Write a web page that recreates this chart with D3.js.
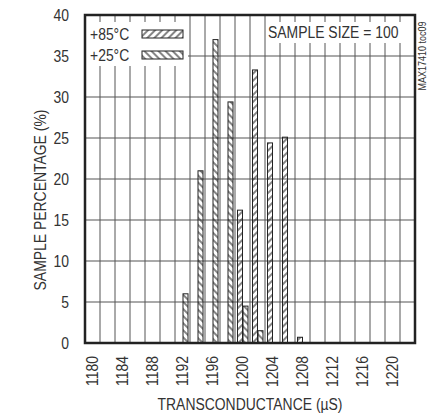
<!DOCTYPE html>
<html>
<head>
<meta charset="utf-8">
<script src="https://cdn.jsdelivr.net/npm/d3@7"></script>
<style>
body { margin: 0; background: #fff; }
text { font-family: "Liberation Sans Narrow", "Liberation Sans", Arial, sans-serif; fill: #333; }
</style>
</head>
<body>
<div id="chart"></div>
<script>
var width = 433,
    height = 415;

// histogram data, transconductance bins (uS) and sample percentage
var bins   = [1192, 1194, 1196, 1198, 1200, 1202, 1204, 1206, 1208];
var pct25  = [6, 21, 37, 29.4, 4.5, 1.5, 0, 0, 0];
var pct85  = [0, 0, 0, 0, 16.2, 33.3, 24.4, 25.1, 0.7];
var xTicks = [1180, 1184, 1188, 1192, 1196, 1200, 1204, 1208, 1212, 1216, 1220];
var yTicks = [0, 5, 10, 15, 20, 25, 30, 35, 40];
var xGrid  = d3.range(1181, 1222, 2);
var legendNames = ["+85°C", "+25°C"];

var pLeft = 85, pRight = 415, pTop = 15, pBottom = 343;
var narrow = 0.82; // squeeze text horizontally, looks like a narrow face

var x = d3.scaleLinear().domain([1179, 1223]).range([pLeft, pRight]);
var y = d3.scaleLinear().domain([0, 40]).range([pBottom, pTop]);

var barW = 5;

var svg = d3.select("#chart").append("svg")
    .attr("width", width)
    .attr("height", height);

// hatch patterns: "/" for +85C, "\" for +25C
var defs = svg.append("defs");
[["h85", 45], ["h25", -45]].forEach(function(p) {
    var pat = defs.append("pattern")
        .attr("id", p[0])
        .attr("patternUnits", "userSpaceOnUse")
        .attr("width", 5)
        .attr("height", 5)
        .attr("patternTransform", "rotate(" + p[1] + ")");
    pat.append("line")
        .attr("x1", 1).attr("x2", 1)
        .attr("y1", 0).attr("y2", 5)
        .attr("stroke", "#222")
        .attr("stroke-width", 1.1);
});

// grid
svg.append("g").selectAll("line")
    .data(xGrid)
  .enter().append("line")
    .attr("x1", function(d) { return x(d); })
    .attr("x2", function(d) { return x(d); })
    .attr("y1", pTop)
    .attr("y2", pBottom)
    .attr("stroke", "#555")
    .attr("stroke-width", 1);

svg.append("g").selectAll("line")
    .data(yTicks.slice(1, -1))
  .enter().append("line")
    .attr("x1", pLeft)
    .attr("x2", pRight)
    .attr("y1", function(d) { return y(d); })
    .attr("y2", function(d) { return y(d); })
    .attr("stroke", "#555")
    .attr("stroke-width", 1.2);

// white boxes behind legend + sample size note
svg.append("rect")
    .attr("x", pLeft + 1).attr("y", 22)
    .attr("width", 102).attr("height", 44)
    .attr("fill", "#fff");
svg.append("rect")
    .attr("x", 266).attr("y", 22)
    .attr("width", pRight - 267).attr("height", 21)
    .attr("fill", "#fff");

// bars
function drawBars(vals, pat, offset) {
    svg.append("g").selectAll("rect")
        .data(bins.map(function(b, i) { return {b: b, v: vals[i]}; }).filter(function(d) { return d.v > 0; }))
      .enter().append("rect")
        .attr("x", function(d) { return x(d.b) + offset; })
        .attr("y", function(d) { return y(d.v); })
        .attr("width", barW)
        .attr("height", function(d) { return pBottom - y(d.v); })
        .attr("fill", "url(#" + pat + ")")
        .attr("stroke", "#222")
        .attr("stroke-width", 1);
}
drawBars(pct85, "h85", -barW);
drawBars(pct25, "h25", 0.5);

// frame
svg.append("rect")
    .attr("x", pLeft).attr("y", pTop)
    .attr("width", pRight - pLeft).attr("height", pBottom - pTop)
    .attr("fill", "none")
    .attr("stroke", "#222")
    .attr("stroke-width", 2.5);

function label(tx, ty, rot, anchor, size, str) {
    return svg.append("text")
        .attr("transform", "translate(" + tx + "," + ty + ") rotate(" + rot + ") scale(" + narrow + ",1)")
        .attr("dy", "0.35em")
        .attr("text-anchor", anchor)
        .style("font-size", size + "px")
        .text(str);
}

// y tick labels
yTicks.forEach(function(d) { label(69, y(d), 0, "end", 17, d); });

// x tick labels (rotated)
xTicks.forEach(function(d) { label(x(d), 356, -90, "end", 17, d); });

// axis titles
label((pLeft + pRight) / 2, 404, 0, "middle", 17, "TRANSCONDUCTANCE (µS)");
label(40, 200, -90, "middle", 17, "SAMPLE PERCENTAGE (%)");

// legend
legendNames.forEach(function(name, i) {
    var ly = 34 + i * 21;
    label(90, ly, 0, "start", 17, name);
    svg.append("rect")
        .attr("x", 142).attr("y", ly - 4)
        .attr("width", 41).attr("height", 8)
        .attr("fill", "url(#" + (i === 0 ? "h85" : "h25") + ")")
        .attr("stroke", "#222")
        .attr("stroke-width", 1);
});

label(268, 32, 0, "start", 17, "SAMPLE SIZE = 100");
label(422, 56, -90, "middle", 11, "MAX17410 toc09");
</script>
</body>
</html>
